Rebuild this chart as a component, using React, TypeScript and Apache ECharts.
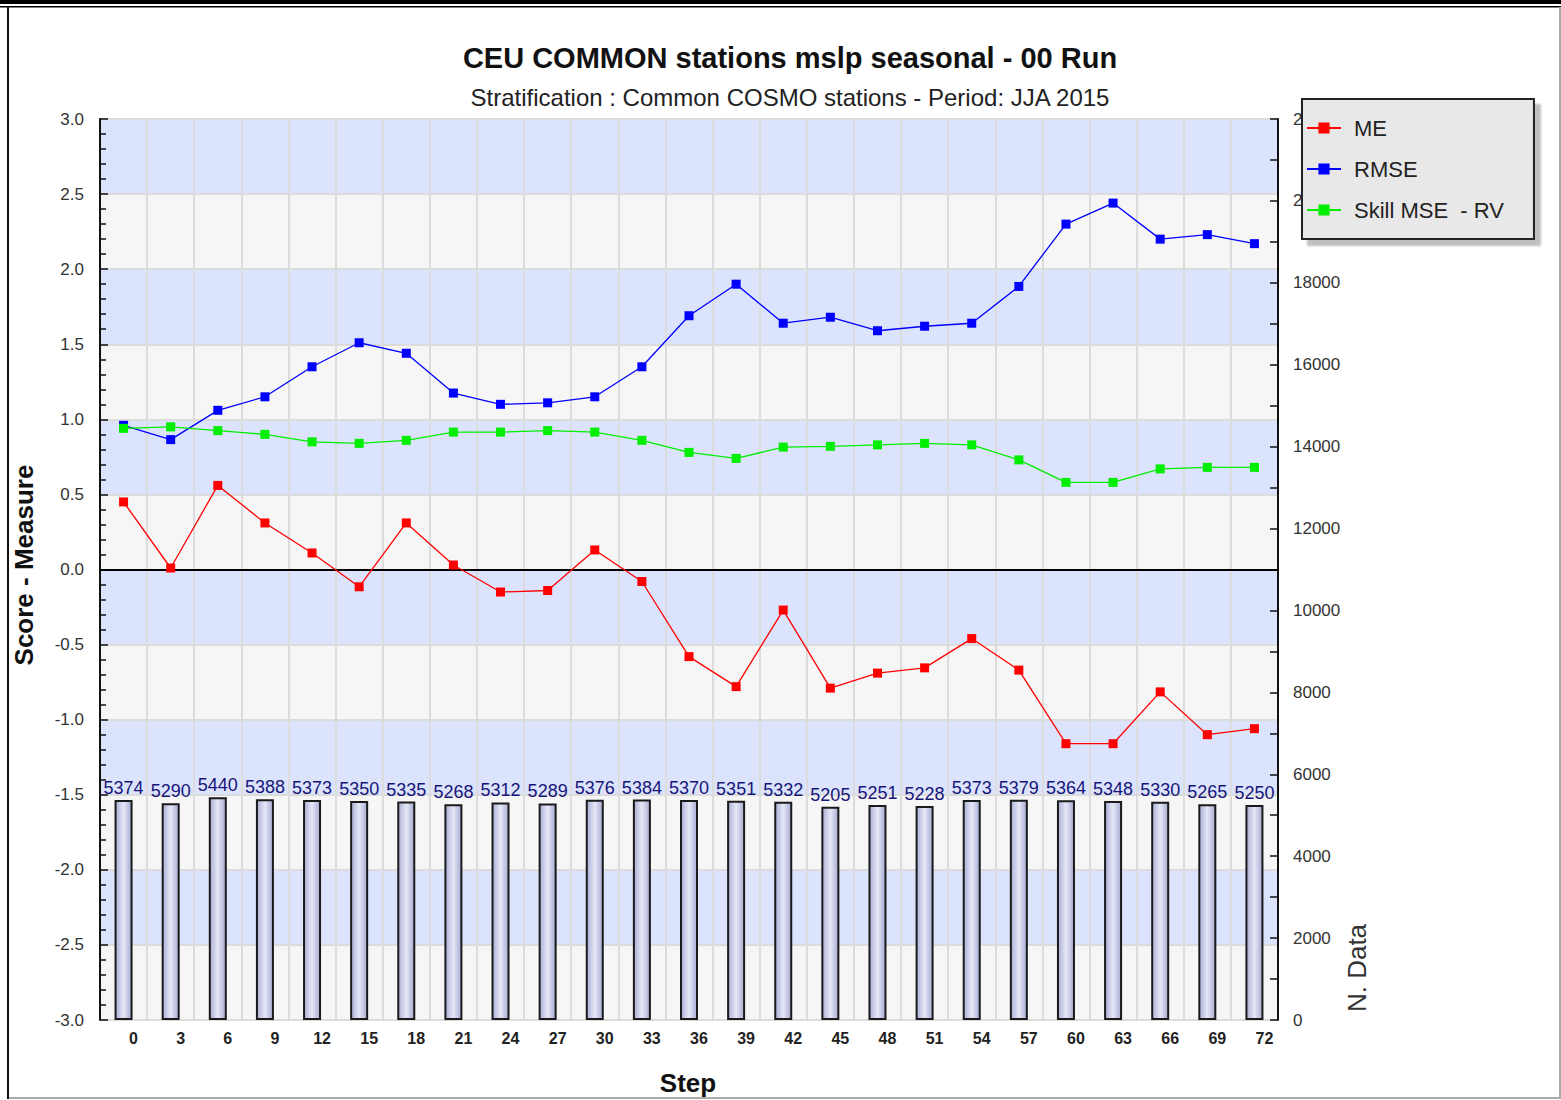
import React, { useEffect, useRef } from "react";
import * as echarts from "echarts";

const steps = ["0","3","6","9","12","15","18","21","24","27","30","33","36","39","42","45","48","51","54","57","60","63","66","69","72"];
const meValues = [0.45,0.01,0.56,0.31,0.11,-0.115,0.31,0.03,-0.15,-0.14,0.13,-0.08,-0.58,-0.78,-0.27,-0.79,-0.69,-0.655,-0.46,-0.67,-1.16,-1.16,-0.815,-1.10,-1.06];
const rmseValues = [0.96,0.865,1.06,1.15,1.35,1.51,1.44,1.175,1.10,1.11,1.15,1.35,1.69,1.90,1.64,1.68,1.59,1.62,1.64,1.885,2.30,2.44,2.20,2.23,2.17];
const skillValues = [0.94,0.95,0.925,0.90,0.85,0.84,0.86,0.915,0.915,0.925,0.915,0.86,0.78,0.74,0.815,0.82,0.83,0.84,0.83,0.73,0.58,0.58,0.67,0.68,0.68];
const nData = [5374,5290,5440,5388,5373,5350,5335,5268,5312,5289,5376,5384,5370,5351,5332,5205,5251,5228,5373,5379,5364,5348,5330,5265,5250];

const FONT = "'Liberation Sans', Arial, sans-serif";

export default function App() {
  const ref = useRef<HTMLDivElement>(null);
  useEffect(() => {
    const chart = echarts.init(ref.current!, null, { renderer: "svg" });
    const lineSeries = (name: string, data: number[], color: string, z: number) => ({
      name,
      type: "line",
      data,
      yAxisIndex: 0,
      symbol: "rect",
      symbolSize: 9,
      itemStyle: { color },
      lineStyle: { color, width: 1.3 },
      z,
    });
    chart.setOption({
      animation: false,
      backgroundColor: "#ffffff",
      grid: { left: 100, right: 283, top: 119, bottom: 80, containLabel: false },
      legend: {
        orient: "vertical",
        left: 1302,
        top: 99,
        padding: [18, 30, 18, 4],
        itemGap: 19,
        itemWidth: 34,
        itemHeight: 14,
        backgroundColor: "#e8e8e8",
        borderColor: "#222",
        borderWidth: 2,
        shadowColor: "rgba(0,0,0,0.25)",
        shadowOffsetX: 6,
        shadowOffsetY: 6,
        shadowBlur: 2,
        textStyle: { fontFamily: FONT, fontSize: 22, color: "#222", padding: [0, 0, 0, 8] },
        data: ["ME", "RMSE", "Skill MSE  - RV"],
        z: 10,
      },
      xAxis: {
        type: "category",
        data: steps,
        boundaryGap: true,
        axisLine: { lineStyle: { color: "#111", width: 2 } },
        axisTick: { inside: true, length: 8, lineStyle: { color: "#111", width: 1.5 } },
        axisLabel: {
          fontFamily: FONT,
          fontSize: 16,
          fontWeight: "bold",
          color: "#222",
          margin: 10,
          padding: [0, 0, 0, 20],
          interval: 0,
        },
        splitLine: { show: true, lineStyle: { color: "#dcdcdc", width: 2 } },
      },
      yAxis: [
        {
          type: "value",
          min: -3,
          max: 3,
          interval: 0.5,
          position: "left",
          axisLine: { show: true, lineStyle: { color: "#111", width: 2 } },
          axisTick: { show: true, inside: true, length: 8, lineStyle: { color: "#111", width: 1.5 } },
          minorTick: { show: true, splitNumber: 5, length: 6, lineStyle: { color: "#111", width: 1.5 } },
          axisLabel: {
            fontFamily: FONT,
            fontSize: 17,
            color: "#333",
            margin: 16,
            formatter: (v: number) => v.toFixed(1),
          },
          splitLine: { show: true, lineStyle: { color: "#dcdcdc", width: 2 } },
          splitArea: { show: true, areaStyle: { color: ["#f6f6f6", "#dce3fc"] } },
        },
        {
          type: "value",
          min: 0,
          max: 22000,
          interval: 2000,
          position: "right",
          axisLine: { show: true, lineStyle: { color: "#111", width: 2 } },
          axisTick: { show: true, inside: true, length: 8, lineStyle: { color: "#111", width: 1.5 } },
          minorTick: { show: true, splitNumber: 2, length: 8, lineStyle: { color: "#111", width: 1.5 } },
          axisLabel: {
            fontFamily: FONT,
            fontSize: 17,
            color: "#333",
            margin: 15,
            formatter: (v: number) => String(v),
          },
          splitLine: { show: false },
          splitArea: { show: false },
        },
      ],
      series: [
        {
          name: "N. Data",
          type: "bar",
          yAxisIndex: 1,
          data: nData,
          barWidth: 18,
          itemStyle: {
            color: new echarts.graphic.LinearGradient(0, 0, 1, 0, [
              { offset: 0, color: "#a9aed6" },
              { offset: 0.5, color: "#e6e8f6" },
              { offset: 1, color: "#a6abd3" },
            ]),
            borderColor: "#1a1a1a",
            borderWidth: 2,
          },
          label: {
            show: true,
            position: "top",
            distance: 3,
            fontFamily: FONT,
            fontSize: 18,
            color: "#16167a",
          },
          z: 2,
        },
        {
          ...lineSeries("ME", meValues, "#ff0000", 5),
          markLine: {
            silent: true,
            symbol: "none",
            label: { show: false },
            lineStyle: { color: "#000", width: 2, type: "solid" },
            data: [{ yAxis: 0 }],
          },
        },
        lineSeries("RMSE", rmseValues, "#0000ff", 5),
        lineSeries("Skill MSE  - RV", skillValues, "#00ee00", 6),
      ],
      graphic: [
        { type: "rect", left: 0, top: 0, shape: { width: 1561, height: 4 }, style: { fill: "#000" }, z: 20 },
        { type: "rect", left: 0, top: 6, shape: { width: 1561, height: 1.5 }, style: { fill: "#000" }, z: 20 },
        { type: "rect", left: 7, top: 7, shape: { width: 2, height: 1092 }, style: { fill: "#111" }, z: 20 },
        { type: "rect", left: 9, top: 1097, shape: { width: 1552, height: 2 }, style: { fill: "#aaa" }, z: 20 },
        { type: "rect", left: 1559, top: 7, shape: { width: 2, height: 1092 }, style: { fill: "#aaa" }, z: 20 },
        {
          type: "text",
          x: 790,
          y: 58,
          style: {
            text: "CEU COMMON stations mslp seasonal - 00 Run",
            font: `bold 29px ${FONT}`,
            fill: "#111",
            align: "center",
            verticalAlign: "middle",
          },
        },
        {
          type: "text",
          x: 790,
          y: 97,
          style: {
            text: "Stratification : Common COSMO stations - Period: JJA 2015",
            font: `24px ${FONT}`,
            fill: "#222",
            align: "center",
            verticalAlign: "middle",
          },
        },
        {
          type: "text",
          x: 24,
          y: 565,
          rotation: Math.PI / 2,
          style: {
            text: "Score - Measure",
            font: `bold 26px ${FONT}`,
            fill: "#111",
            align: "center",
            verticalAlign: "middle",
          },
        },
        {
          type: "text",
          x: 1357,
          y: 968,
          rotation: Math.PI / 2,
          style: {
            text: "N. Data",
            font: `26px ${FONT}`,
            fill: "#333",
            align: "center",
            verticalAlign: "middle",
          },
        },
        {
          type: "text",
          x: 688,
          y: 1083,
          style: {
            text: "Step",
            font: `bold 26px ${FONT}`,
            fill: "#111",
            align: "center",
            verticalAlign: "middle",
          },
        },
      ],
    });
    return () => chart.dispose();
  }, []);
  return (
    <div
      ref={ref}
      style={{ position: "absolute", left: 0, top: 0, width: 1561, height: 1100 }}
    />
  );
}
